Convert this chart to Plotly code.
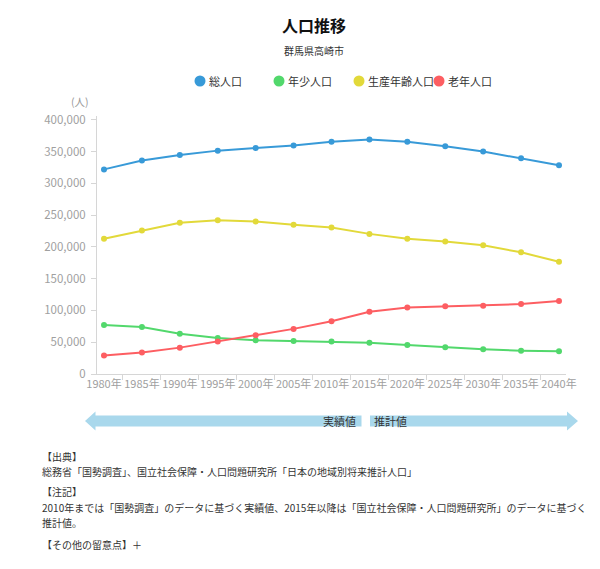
import plotly.graph_objects as go

# ---- data ----
years = ["1980年", "1985年", "1990年", "1995年", "2000年", "2005年", "2010年",
         "2015年", "2020年", "2025年", "2030年", "2035年", "2040年"]
total = [322000, 336000, 344500, 351500, 355500, 359500, 365500, 369000, 365500, 358500, 350000, 339500, 328500]
young = [77000, 74000, 63500, 56500, 53000, 52000, 51000, 49000, 45700, 42000, 39000, 36700, 35700]
working = [213000, 226000, 238000, 242000, 240000, 235000, 230500, 220500, 213000, 208500, 202500, 191500, 176500]
elderly = [29000, 34000, 41500, 51000, 61000, 71000, 83000, 98000, 104500, 106500, 107500, 110000, 115000]
series_names = ["総人口", "年少人口", "生産年齢人口", "老年人口"]
y_ticks = [0, 50000, 100000, 150000, 200000, 250000, 300000, 350000, 400000]
y_tick_labels = ["0", "50,000", "100,000", "150,000", "200,000", "250,000", "300,000", "350,000", "400,000"]

colors = ["#389ad8", "#52d86c", "#e2d93a", "#fd5e62"]
FONT = "Noto Sans CJK JP"

OFF = 8  # page body margin
W, H = 600 - OFF, 569 - OFF
# plot area in page pixels
PL, PR, PT, PB = 97, 566, 116, 374
ML = PL - OFF
MT = PT - OFF
MR = W - (PR - OFF)
MB = H - (PB - OFF)
PW = PR - PL
PH = PB - PT


def px(x):
    return (x - PL) / PW


def py(y):
    return (PB - y) / PH


fig = go.Figure()
for name, vals, c in zip(series_names, [total, young, working, elderly], colors):
    fig.add_trace(go.Scatter(
        x=years, y=vals, name=name, mode="lines+markers",
        line=dict(color=c, width=2), marker=dict(color=c, size=6),
        showlegend=False,
    ))

annotations = []
shapes = []

# title / subtitle
annotations.append(dict(text="<b>人口推移</b>", x=px(314), y=py(25), xref="paper", yref="paper",
                        showarrow=False, font=dict(family=FONT, size=16, color="#111"),
                        xanchor="center", yanchor="middle"))
annotations.append(dict(text="群馬県高崎市", x=px(314), y=py(50), xref="paper", yref="paper",
                        showarrow=False, font=dict(family=FONT, size=10, color="#333"),
                        xanchor="center", yanchor="middle"))

# legend (manual)
leg_x = [200, 279, 359, 439]
for name, c, lx in zip(series_names, colors, leg_x):
    shapes.append(dict(type="circle", xref="paper", yref="paper", xsizemode="pixel", ysizemode="pixel",
                       xanchor=px(lx), yanchor=py(81), x0=-5.5, x1=5.5, y0=-5.5, y1=5.5,
                       fillcolor=c, line=dict(width=0)))
    annotations.append(dict(text=name, x=px(lx + 7), y=py(81), xref="paper", yref="paper",
                            showarrow=False, font=dict(family=FONT, size=11, color="#333"),
                            xanchor="left", yanchor="middle"))

# y axis unit
annotations.append(dict(text="(人)", x=px(91), y=py(102), xref="paper", yref="paper",
                        showarrow=False, font=dict(family=FONT, size=10.5, color="#999"),
                        xanchor="right", yanchor="middle"))

# arrow bar
ac = "#a9d8ec"
yb0, yb1, yh0, yh1, ym = 415.5, 426.5, 411.5, 430.5, 421


def path(points):
    return "M " + " L ".join(f"{px(a):.5f},{py(b):.5f}" for a, b in points) + " Z"


shapes.append(dict(type="path", xref="paper", yref="paper", fillcolor=ac, line=dict(width=0),
                   path=path([(85, ym), (95.5, yh0), (95.5, yb0), (361.5, yb0), (361.5, yb1),
                              (95.5, yb1), (95.5, yh1)])))
shapes.append(dict(type="path", xref="paper", yref="paper", fillcolor=ac, line=dict(width=0),
                   path=path([(370, yb0), (567, yb0), (567, yh0), (578, ym), (567, yh1),
                              (567, yb1), (370, yb1)])))
annotations.append(dict(text="実績値", x=px(358), y=py(ym), xref="paper", yref="paper",
                        showarrow=False, font=dict(family=FONT, size=11, color="#333"),
                        xanchor="right", yanchor="middle"))
annotations.append(dict(text="推計値", x=px(372), y=py(ym), xref="paper", yref="paper",
                        showarrow=False, font=dict(family=FONT, size=11, color="#333"),
                        xanchor="left", yanchor="middle"))

# footer text
foot = [
    ("【出典】", 456),
    ("総務省「国勢調査」、国立社会保障・人口問題研究所「日本の地域別将来推計人口」", 471),
    ("【注記】", 491),
    ("2010年までは「国勢調査」のデータに基づく実績値、2015年以降は「国立社会保障・人口問題研究所」のデータに基づく", 507),
    ("推計値。", 522),
    ("【その他の留意点】＋", 544),
]
for t, yy in foot:
    annotations.append(dict(text=t, x=px(40), y=py(yy), xref="paper", yref="paper",
                            showarrow=False, font=dict(family=FONT, size=10, color="#333"),
                            xanchor="left", yanchor="middle"))

fig.update_layout(
    width=W, height=H,
    margin=dict(l=ML, r=MR, t=MT, b=MB, pad=0),
    paper_bgcolor="white", plot_bgcolor="white",
    showlegend=False,
    annotations=annotations, shapes=shapes,
    font=dict(family=FONT),
    xaxis=dict(type="category", range=[-0.185, 12.185], showgrid=False, zeroline=False,
               showline=True, linecolor="#d6d6d6", linewidth=1,
               ticks="outside", ticklen=5, tickcolor="#d6d6d6", tickson="boundaries",
               tickangle=0, tickfont=dict(family=FONT, size=11, color="#a0a0a0")),
    yaxis=dict(range=[0, 406000], tickvals=y_ticks, ticktext=y_tick_labels, showgrid=False,
               zeroline=False, showline=True, linecolor="#d6d6d6", linewidth=1,
               ticks="outside", ticklen=5, tickcolor="#d6d6d6", ticklabelstandoff=3,
               tickfont=dict(family=FONT, size=11.5, color="#a0a0a0")),
)

fig.write_html("out.html")
